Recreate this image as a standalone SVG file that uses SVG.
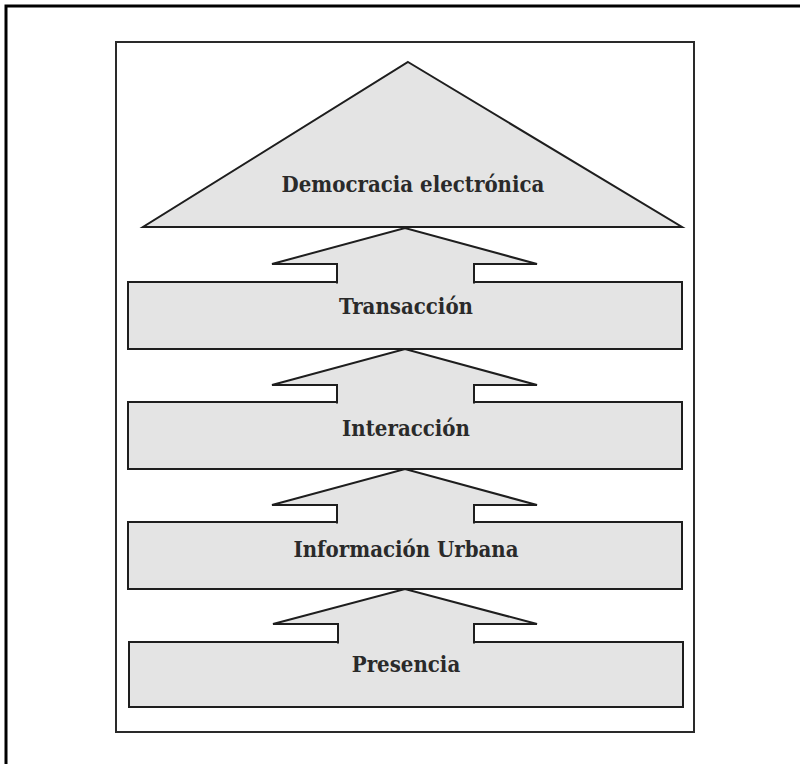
<svg xmlns="http://www.w3.org/2000/svg" width="800" height="764" viewBox="0 0 800 764">
  <style>
    .shape { fill: #e4e4e4; stroke: #1e1e1e; stroke-width: 2; stroke-linejoin: miter; }
    .arrow { fill: #e4e4e4; stroke: #1e1e1e; stroke-width: 2; stroke-linejoin: miter; }
    .label { font-family: "DejaVu Serif Condensed", "DejaVu Serif", "Liberation Serif", serif; font-weight: bold; font-size: 22px; fill: #2a2a2a; text-anchor: middle; }
  </style>
  <rect width="800" height="764" fill="#ffffff"/>

  <!-- page frame: top and left rules -->
  <path d="M 6 764 V 6 H 800" fill="none" stroke="#000" stroke-width="3"/>

  <!-- figure border -->
  <rect x="116" y="42" width="578" height="690" fill="none" stroke="#2a2a2a" stroke-width="2"/>

  <!-- levels -->
  <g id="democracia">
    <polygon class="shape" points="408,62 682,227 143,227"/>
    <text class="label" x="413" y="192">Democracia electrónica</text>
  </g>
  <g id="transaccion">
    <rect class="shape" x="128" y="282" width="554" height="67"/>
    <text class="label" x="406" y="314">Transacción</text>
  </g>
  <g id="interaccion">
    <rect class="shape" x="128" y="402" width="554" height="67"/>
    <text class="label" x="406" y="436">Interacción</text>
  </g>
  <g id="informacion">
    <rect class="shape" x="128" y="522" width="554" height="67"/>
    <text class="label" x="406" y="557">Información Urbana</text>
  </g>
  <g id="presencia">
    <rect class="shape" x="129" y="642" width="554" height="65"/>
    <text class="label" x="406" y="672">Presencia</text>
  </g>

  <!-- upward arrows between levels -->
  <g id="connectors">
    <path class="arrow" d="M 337 283.5 V 264 H 272 L 405 228 L 537 264 H 474 V 283.5"/>
    <path class="arrow" d="M 337 403.5 V 385 H 272 L 405 349 L 537 385 H 474 V 403.5"/>
    <path class="arrow" d="M 337 523.5 V 505 H 272 L 405 469 L 537 505 H 474 V 523.5"/>
    <path class="arrow" d="M 338 643.5 V 624 H 273 L 405 589 L 537 624 H 474 V 643.5"/>
  </g>
</svg>
